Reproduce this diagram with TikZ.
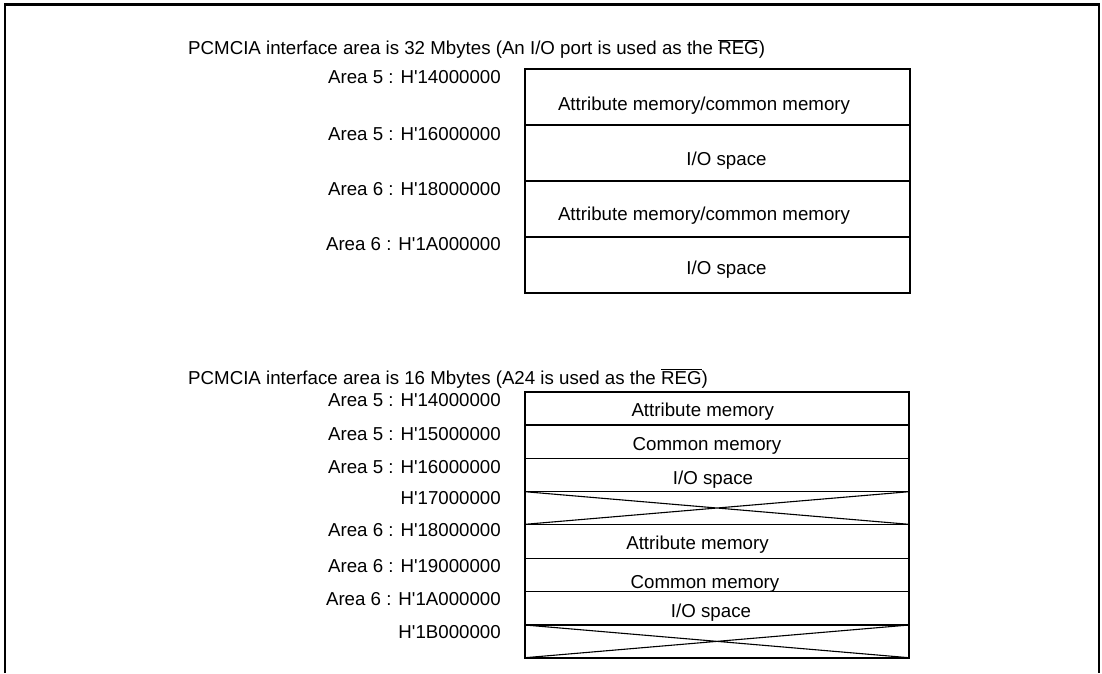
\documentclass[tikz,border=0pt]{standalone}
\usepackage{fontspec}
\setmainfont{Liberation Sans}[Ligatures=TeXOff]
\usepackage{xcolor}
\usepackage{tikz}

\newcommand{\regbar}{$\overline{\mbox{REG}}$}

\begin{document}
\begin{tikzpicture}[x=1pt,y=-1pt,
  txt/.style={font=\fontsize{18.7}{22}\selectfont,inner sep=0pt,anchor=base},
  addr/.style={txt,anchor=base east},
  boxline/.style={line width=2pt},
  rowline/.style={line width=1.1pt}]
\useasboundingbox (0,0) rectangle (1102,673);
% frame
\draw[line width=2.4pt] (5,673) -- (5,4.5) -- (1099,4.5) -- (1099,673);

% 32 Mbytes
\node[txt,anchor=base west] (title32) at (188,54.7)
  {PCMCIA interface area is 32 Mbytes (An I/O port is used as the \regbar)};
\node[addr] (a14) at (501,83.7) {Area 5 : H'14000000};
\node[addr] (a16) at (501,140) {Area 5 : H'16000000};
\node[addr] (a18) at (501,195) {Area 6 : H'18000000};
\node[addr] (a1a) at (501,250) {Area 6 : H'1A000000};
\draw[boxline] (525,69) rectangle (910,293);
\draw[rowline] (525,125) -- (910,125);
\draw[rowline] (525,181) -- (910,181);
\draw[rowline] (525,237) -- (910,237);
\node[txt] (acm5) at (704,110) {Attribute memory/common memory};
\node[txt] (io5) at (726.5,165.7) {I/O space};
\node[txt] (acm6) at (704,220) {Attribute memory/common memory};
\node[txt] (io6) at (726.5,274.4) {I/O space};

% 16 Mbytes
\node[txt,anchor=base west] (title16) at (188,384)
  {PCMCIA interface area is 16 Mbytes (A24 is used as the \regbar)};
\node[addr] (b14) at (501,406) {Area 5 : H'14000000};
\node[addr] (b15) at (501,440) {Area 5 : H'15000000};
\node[addr] (b16) at (501,473) {Area 5 : H'16000000};
\node[addr] (b17) at (501,504.7) {H'17000000};
\node[addr] (b18) at (501,536.7) {Area 6 : H'18000000};
\node[addr] (b19) at (501,572.7) {Area 6 : H'19000000};
\node[addr] (b1a) at (501,605.7) {Area 6 : H'1A000000};
\node[addr] (b1b) at (501,638.4) {H'1B000000};
\draw[boxline] (525,391.7) rectangle (909,657.7);
\draw[rowline] (525,425) -- (909,425);
\draw[rowline] (525,458.3) -- (909,458.3);
\draw[rowline] (525,491.7) -- (909,491.7);
\draw[rowline] (525,524.3) -- (909,524.3);
\draw[rowline] (525,558.3) -- (909,558.3);
\draw[rowline] (525,591.7) -- (909,591.7);
\draw[rowline] (525,625) -- (909,625);
% unused areas
\draw[rowline] (525,491.7) -- (909,524.3) (525,524.3) -- (909,491.7);
\draw[rowline] (525,625) -- (909,657.7) (525,657.7) -- (909,625);
\node[txt] (att5) at (702.7,416.7) {Attribute memory};
\node[txt] (com5) at (707,450) {Common memory};
\node[txt] (ios5) at (713,484.4) {I/O space};
\node[txt] (att6) at (697.5,549.4) {Attribute memory};
\node[txt] (com6) at (705,588.4) {Common memory};
\node[txt] (ios6) at (711,617.4) {I/O space};
\end{tikzpicture}
\end{document}
